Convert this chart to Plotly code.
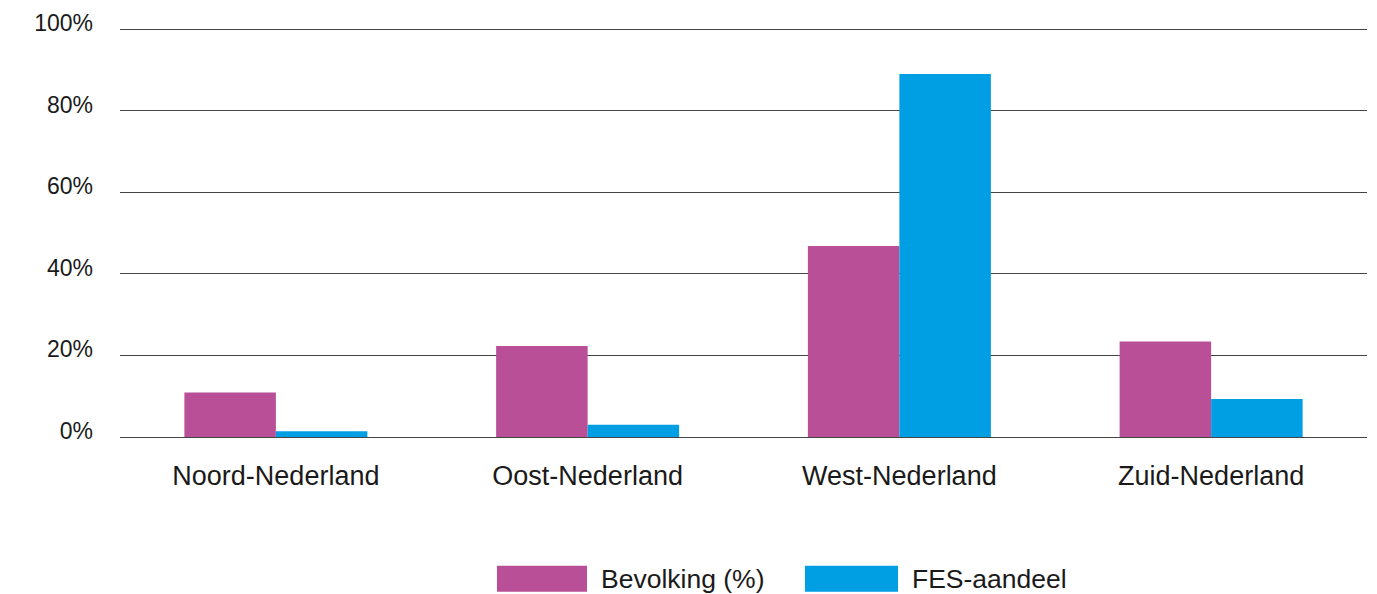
import plotly.graph_objects as go

regions = ["Noord-Nederland", "Oost-Nederland", "West-Nederland", "Zuid-Nederland"]
series_names = ["Bevolking (%)", "FES-aandeel"]
bevolking = [10.9, 22.3, 46.8, 23.4]
fes_aandeel = [1.4, 3.0, 89.0, 9.3]
y_ticks = [0, 20, 40, 60, 80, 100]
y_ticklabels = ["0%", "20%", "40%", "60%", "80%", "100%"]

pink = "#B84F97"
blue = "#009FE3"
font_family = "Liberation Sans, Arial, sans-serif"
text_color = "#1a1a1a"

fig = go.Figure()
fig.add_trace(go.Bar(x=regions, y=bevolking, name=series_names[0],
                     marker=dict(color=pink, line=dict(width=0)), showlegend=False))
fig.add_trace(go.Bar(x=regions, y=fes_aandeel, name=series_names[1],
                     marker=dict(color=blue, line=dict(width=0)), showlegend=False))

fig.update_layout(
    width=1369, height=586,
    margin=dict(l=112, r=10, t=17.2, b=156.7),
    paper_bgcolor="white", plot_bgcolor="white",
    barmode="group", bargap=0.413, bargroupgap=0,
    font=dict(family=font_family, color=text_color, size=24),
)
fig.update_yaxes(
    range=[0, 101], tickvals=y_ticks, ticktext=y_ticklabels,
    showgrid=True, gridcolor="#444444", gridwidth=1.3,
    zeroline=True, zerolinecolor="#444444", zerolinewidth=1.3,
    showline=False, ticks="", ticklabelstandoff=26, ticklabelshift=-6,
    automargin=False,
    tickfont=dict(size=23, family=font_family, color=text_color),
)
fig.update_xaxes(
    showgrid=False, showline=False, ticks="", ticklabelstandoff=20,
    automargin=False,
    tickfont=dict(size=27, family=font_family, color=text_color),
)

# Custom legend with wide swatches
ytop = 437.3 - 408 * 1.01
def py(ypx):
    return (437.3 - ypx) / (437.3 - ytop)

legend_items = [
    (series_names[0], pink, 0.3023, 0.3745, 0.3841),
    (series_names[1], blue, 0.5493, 0.6239, 0.6335),
]
for name, color, x0, x1, xt in legend_items:
    fig.add_shape(type="rect", xref="paper", yref="paper",
                  x0=x0, x1=x1, y0=py(592), y1=py(566),
                  fillcolor=color, line=dict(width=0))
    fig.add_annotation(xref="paper", yref="paper", x=xt, y=py(579),
                       xanchor="left", yanchor="middle", showarrow=False,
                       text=name, font=dict(size=26.5, family=font_family, color=text_color))

fig.write_html("out.html")
